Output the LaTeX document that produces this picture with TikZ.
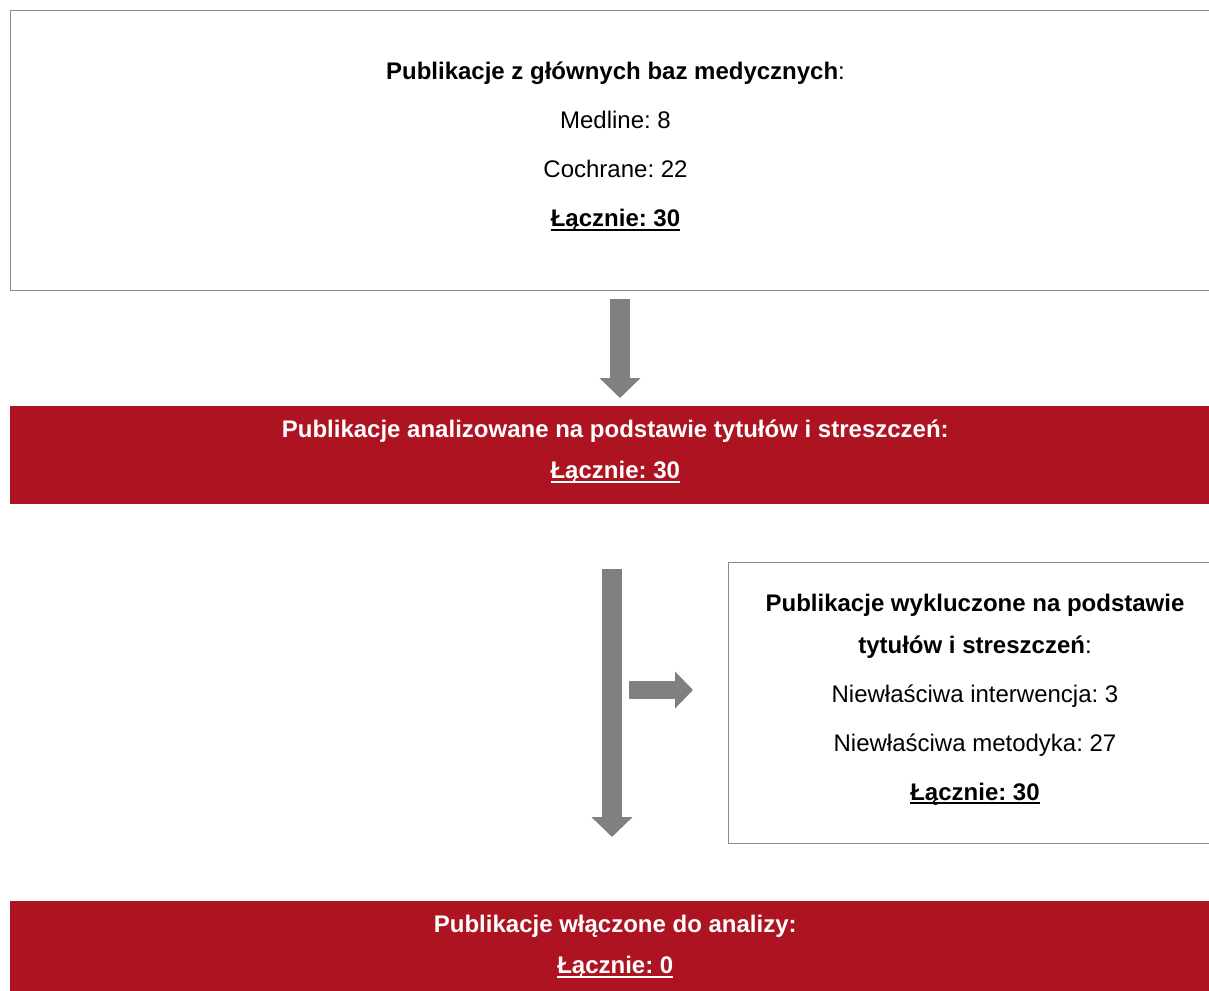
\documentclass[tikz,border=0pt]{standalone}
\usepackage{fontspec}
\setmainfont{Liberation Sans}
\usetikzlibrary{arrows.meta}
\frenchspacing
\newsavebox{\podkrbox}
\newcommand{\podkr}[1]{\sbox{\podkrbox}{#1}%
    \rlap{\raisebox{-3pt}{\rule{\wd\podkrbox}{1.5pt}}}\usebox{\podkrbox}}
\definecolor{barred}{RGB}{173,19,32}
\definecolor{arrgray}{RGB}{128,128,128}
\definecolor{boxgray}{RGB}{140,140,140}
\tikzset{
    whitebox/.style = {draw=boxgray, line width=0.75pt, fill=white, anchor=north west,
                       inner sep=0pt},
    redbar/.style = {fill=barred, anchor=north west, inner sep=0pt,
                     minimum width=907.5pt, minimum height=73.5pt},
    boxtext/.style = {align=center, inner sep=0pt,
                      font=\fontsize{18pt}{36.75pt}\selectfont},
    bartext/.style = {align=center, inner sep=0pt, text=white,
                      font=\fontsize{18pt}{30.75pt}\selectfont\bfseries},
    bigarrow/.style = {draw=arrgray, line width=15pt,
                       -{Triangle[length=15pt,width=30pt]}},
    smallarrow/.style = {draw=arrgray, line width=13.5pt,
                         -{Triangle[length=13.5pt,width=27pt]}}
}
\begin{document}
\begin{tikzpicture}[x=0.75pt,y=-0.75pt]
    \useasboundingbox (0,0) rectangle (1209,991);
    \clip (0,0) rectangle (1209,991);
    % boxes
    \node [whitebox, minimum width=907.5pt, minimum height=210pt] (bazy) at (10,10) {};
    \node [redbar] (analiza) at (10,406) {};
    \node [whitebox, minimum width=369.75pt, minimum height=210.75pt] (wykl) at (728,562) {};
    \node [redbar] (wlacz) at (10,901) {};
    % texts
    \node [boxtext] (bazytxt) at ([yshift=2.6pt]bazy.center)
        {\textbf{Publikacje z głównych baz medycznych}:\\
         Medline: 8\\
         Cochrane: 22\\
         \textbf{\podkr{Łącznie: 30}}};
    \node [bartext] (analizatxt) at ([yshift=2.6pt]analiza.center)
        {Publikacje analizowane na podstawie tytułów i streszczeń:\\
         \podkr{Łącznie: 30}};
    \node [boxtext] (wykltxt) at ([yshift=2.6pt]wykl.center)
        {\textbf{Publikacje wykluczone na podstawie}\\[-5.25pt]
         \textbf{tytułów i streszczeń}:\\
         Niewłaściwa interwencja: 3\\
         Niewłaściwa metodyka: 27\\
         \textbf{\podkr{Łącznie: 30}}};
    \node [bartext] (wlacztxt) at ([yshift=2.6pt]wlacz.center)
        {Publikacje włączone do analizy:\\
         \podkr{Łącznie: 0}};
    % arrows
    \coordinate (a1) at (620,0);
    \coordinate (a2) at (612,0);
    \coordinate (split) at (612,690);
    \draw [bigarrow, shorten <=6pt, shorten >=6pt]
        (bazy.south -| a1) -- (analiza.north -| a1);
    \draw [bigarrow, shorten <=48pt, shorten >=48pt]
        (analiza.south -| a2) -- (wlacz.north -| a2);
    \draw [smallarrow, shorten <=12.75pt, shorten >=26.25pt]
        (split) -- (split -| wykl.west);
\end{tikzpicture}
\end{document}
